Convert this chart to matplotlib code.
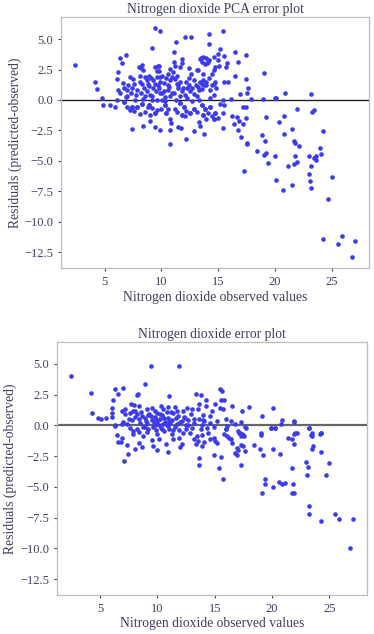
import numpy as np
import matplotlib
matplotlib.use("Agg")
import matplotlib.pyplot as plt
from matplotlib.ticker import MultipleLocator

# PCA model: observed NO2 vs residual (predicted - observed)
pca_obs = [
    2.4, 9.4, 9.84, 9.2, 12.1, 12.65, 14.15, 11.3, 11.1, 14.2, 6.4, 6.93, 6.5, 6.2, 6.1,
    4.15, 4.3, 4.8, 8.3, 8.2, 9.7, 9.8, 11.8, 11.8, 12.4, 13.2, 13.45, 13.9, 14.0, 13.7,
    14.1, 14.6, 14.6, 10.8, 11.6, 11.0,
    6.6, 6.2, 6.4, 6.7, 6.95, 6.85, 6.1, 6.7, 7.4, 7.85, 7.7, 7.55, 7.4, 7.85, 7.8, 8.15,
    8.1, 8.0, 8.4, 8.3,
    8.6, 8.7, 8.9, 8.95, 8.7, 9.0, 9.15, 8.9, 9.45, 9.4, 9.6, 9.75, 9.25, 9.45, 9.6, 9.9,
    10.05, 9.75, 9.9, 10.2, 10.35, 10.05, 10.35, 10.6, 10.4, 10.55, 10.8, 10.95, 10.6,
    10.95, 11.1, 11.2,
    11.35, 11.5, 11.65, 11.8, 11.3, 11.65, 11.95, 11.8, 12.25, 12.4, 12.55, 12.3, 12.7,
    12.85, 12.55, 12.6, 12.85, 13.05, 13.1,
    13.3, 13.4, 13.55, 13.7, 13.75, 13.95, 13.4, 13.55, 13.7, 13.85, 14.15, 13.35, 13.55,
    13.85, 13.7, 14.3, 14.6, 14.45, 14.75, 14.3, 14.75, 14.6, 15.2, 15.5, 15.45,
    15.45, 15.2, 15.0, 15.55, 16.5, 17.45, 16.75, 14.95, 15.1, 15.75, 15.7, 14.7, 16.5,
    15.55, 15.9, 14.6, 17.45, 19.05, 17.6, 17.55, 16.95, 20.9, 23.15, 17.9, 18.9, 20.0,
    20.1, 16.15, 15.45,
    15.0, 15.45, 16.2, 16.35, 16.65, 16.85, 16.75, 17.0, 17.2, 17.45, 17.5, 17.55, 17.3,
    17.2, 17.45, 18.45, 18.85, 19.15, 19.05, 19.25, 19.4, 19.2, 20.0, 20.35, 20.1, 20.7,
    20.75, 20.8, 21.1, 21.5, 21.5, 21.7, 21.75, 21.9, 22.15, 21.75, 21.65, 21.9, 23.25,
    23.4, 23.0, 23.6, 23.65, 23.45, 23.2, 22.95, 23.1, 23.2, 24.05, 24.0, 24.2, 25.0,
    24.7, 24.2, 25.55, 25.9, 27.05, 26.75,
    4.9, 5.45, 5.95, 7.0, 7.25, 7.6, 8.1, 7.4, 8.4, 8.6, 9.0, 9.0, 9.45, 9.9, 9.6, 10.0,
    10.8, 10.85, 10.8, 10.8, 11.2, 11.35, 11.5, 11.7, 12.05, 12.2, 12.15, 12.9, 13.1,
    13.35, 13.4, 13.75, 13.95, 14.1, 14.5, 8.8, 9.2,
    7.4, 7.85, 8.3, 8.9, 9.45, 10.35, 10.4, 11.65, 11.95, 11.8, 12.85, 12.55, 13.55,
    13.85, 13.7, 14.3, 14.75, 14.6, 6.7,
    7.2, 7.5, 7.1, 7.3, 7.0, 8.3, 8.5, 8.2, 8.6, 8.8, 8.4, 9.1, 9.3, 9.5, 9.2, 9.7, 9.6,
    9.9, 10.2, 10.4, 10.1, 10.7, 10.8, 10.3, 10.6, 11.2, 11.4, 11.1, 11.9, 11.6, 11.5,
    12.2, 12.4, 12.7, 12.1, 12.9, 13.2, 13.6, 13.9, 13.1, 14.2, 14.5, 14.8, 14.3,
]
pca_res = [
    2.9, 5.9, 5.7, 4.3, 5.2, 5.2, 5.4, 4.77, 3.93, 4.6, 3.44, 3.7, 3.0, 2.28, 1.76,
    1.46, 0.87, 0.14, 2.9, 2.6, 2.8, 2.4, 3.33, 3.0, 2.6, 2.44, 3.44, 3.44, 3.0, 2.17,
    3.1, 3.5, 2.44, 2.57, 2.7, 2.3,
    1.4, 0.8, 0.55, 1.0, 0.8, 0.25, 0.0, -0.15, -0.55, -0.55, 0.0, 1.35, 1.0, 0.8, 0.45, 1.5,
    2.0, 2.7, 2.5, -0.3,
    1.9, 1.6, 2.0, 1.15, 0.7, 0.4, 0.0, -0.4, -1.1, 2.7, 2.4, 2.8, 1.6, 1.35, 1.9, 1.5,
    2.0, 0.95, 0.55, 0.75, 0.25, 0.0, -0.4, -0.7, -1.1, 1.2, 1.6, 1.9, 0.8,
    0.55, 3.1, 2.75,
    1.35, 0.95, 1.5, 0.7, 0.0, -0.25, -0.55, -1.2, 0.95, 1.2, 0.7, 0.15, -0.05,
    -0.7, -1.1, 2.15, 1.6, 1.2, 2.45,
    0.8, 1.5, 1.35, 1.6, 1.2, 1.5, 3.35, 3.1, 3.5, 2.95, 3.25, 0.0, -0.4,
    -0.7, -1.2, 0.8, 0.4, 1.2, 1.5, -0.55, -1.1, -1.6, -0.3, -0.4, -1.1,
    5.7, 4.15, 3.8, 3.6, 3.9, 3.7, 3.15, 3.3, 2.8, 3.0, 2.7, 2.7, 2.0,
    1.5, 1.5, 1.35, 1.7, 2.2, 0.95, 0.55, 0.5, 0.6, 0.5, 0.1, 0.1, 0.15,
    0.2, 0.1, 0.0,
    -1.5, -2.3, -1.3, -1.95, -1.4, -1.7, -2.5, -3.0, -2.0, -1.5, -3.55, -3.65, -5.85,
    -0.55, -0.6, -4.15, -2.9, -3.35, -4.5, -4.35, -5.15, -1.4, -4.6, -1.8, -6.55, -7.4,
    -2.75, -1.3, -5.45, -2.4, -6.95, -3.4, -3.5, -0.75, -3.75, -4.6, -5.25, -5.1, -1.0,
    -0.8, -4.6, -4.6, -4.9, -4.75, -5.45, -6.05, -6.65, -7.25, -4.45, -3.9, -2.55, -6.35,
    -8.15, -11.4, -11.85, -11.15, -11.6, -12.85,
    -0.45, -0.45, -0.55, -0.55, -0.8, -0.9, -1.15, -2.35, -2.1, -1.0, -1.2, -1.7, -2.2, -2.5, -0.8, -0.7,
    -1.55, -1.9, -2.45, -3.6, -0.7, -0.95, -2.25, -2.3, -1.35, -0.9, -3.2, -2.55, -1.0,
    -1.8, -2.15, -2.8, -1.6, -1.1, -1.3, -0.6, -0.65,
    -0.55, -0.55, -0.3, -0.4, -1.1, -0.4, -1.1, -0.25, -0.55, -1.2, -0.7, -1.1, -0.4,
    -0.7, -1.2, -0.55, -1.1, -1.6, -0.15,
    1.9, 1.7, 1.2, 0.6, 0.3, 1.3, 1.0, 0.6, 0.3, 1.3, 0.1, 1.8, 1.0, 0.7, 0.3, 1.2, 0.0,
    1.9, 1.4, 1.8, 0.6, 1.1, 0.3, -0.1, 2.1, 1.7, 2.0, 0.6, 1.0, 0.3, 1.2,
    1.5, 1.8, 1.0, 0.4, 0.5, 1.1, 0.9, 1.2, 0.3, 1.8, 2.1, 1.0, 0.2,
]

# full model
base_obs = [
    2.45, 9.45, 11.85, 4.2, 4.3, 4.8, 5.1, 5.5, 6.3, 6.6, 7.0, 6.15, 6.0, 6.05, 6.0,
    8.3, 8.25, 8.9, 11.05, 7.7, 7.95, 8.4, 6.9, 7.2, 7.5, 7.9, 8.2, 8.35, 8.65, 9.0,
    9.5, 9.8, 9.4, 9.9, 10.2, 10.5, 10.9, 10.6, 11.05, 11.35, 11.5, 11.8, 12.1, 12.2,
    12.6, 12.95, 13.2, 13.5, 13.65, 13.95, 13.35, 13.8, 14.2, 14.2, 14.1, 6.3, 6.9, 8.9,
    9.75, 10.9, 12.65, 13.85,
    15.45, 15.65, 15.0, 15.8, 15.55, 15.5, 15.75, 16.55, 17.4, 17.95, 19.1, 20.1, 20.9,
    20.8, 21.9, 20.3, 19.95, 23.25, 24.25, 22.0, 23.5, 14.8, 14.6, 15.2, 16.0, 16.4,
    16.8, 17.3, 17.6, 16.1, 16.0, 17.0, 17.2, 19.0, 14.9,
    6.3, 6.9, 7.85, 7.9, 8.35, 8.75, 9.05, 9.95, 10.1, 10.4, 11.25, 11.4, 11.85, 12.2,
    12.45, 12.85, 13.45, 13.9, 14.45, 14.6, 14.9, 15.8, 15.95, 16.25, 17.1, 17.5, 17.7,
    19.0, 19.9, 20.3, 21.4, 21.9, 21.95, 23.25, 23.4, 24.2, 24.3,
    6.45, 6.6, 6.8, 7.1, 7.45, 7.3, 8.05, 8.35, 8.65, 9.5, 9.65, 9.95, 10.9, 10.75, 11.35,
    11.95, 12.1, 13.2, 13.4, 13.6, 13.6, 13.85, 14.1, 13.5,
    14.95, 15.35, 15.75, 15.55, 17.25, 16.9, 17.0, 17.6, 17.45, 18.4, 18.95, 19.25, 20.1,
    20.7, 21.7, 22.2, 21.7, 21.95, 19.4, 19.4, 19.1, 20.05, 20.65, 20.85, 21.15, 21.8,
    21.7, 21.95, 23.0, 23.1, 23.05, 23.45, 23.6, 23.45, 24.25, 25.0, 24.75, 23.25, 23.25,
    24.25, 25.5, 25.85, 27.05, 26.8,
    15.06, 15.2, 16.1, 16.4, 16.5, 16.8, 16.96, 17.25, 17.4, 17.55, 17.25,
    7.0, 7.3, 7.6, 7.8, 8.0, 8.2, 8.5, 8.7, 8.9, 9.1, 9.2, 9.3, 9.5, 9.6, 9.7, 9.8, 9.9,
    10.0, 10.1, 10.2, 10.3, 10.4, 10.5, 10.6, 10.7, 10.8, 10.9, 11.0, 11.1, 11.2, 11.3,
    11.5, 11.6, 11.7, 11.9, 12.0, 12.3, 12.5, 12.7, 13.0, 13.2, 13.6, 13.8, 14.0, 14.3,
    14.6, 7.2, 7.6, 8.0, 8.6, 9.1, 9.2, 10.0, 10.3, 10.8, 11.7, 12.4, 13.0,
]
base_res = [
    4.04, 4.8, 4.8, 2.65, 1.03, 0.57, 0.5, 0.6, 2.93, 2.58, 3.0, 2.1, 1.44, 1.03, 0.7,
    2.58, 2.45, 3.4, 2.38, 1.7, 1.65, 1.6, 1.16, 0.9, 0.5, 1.15, 0.9, 0.5, 0.75, 0.35,
    1.45, 1.15, 0.75, 0.5, 0.9, 1.3, 1.5, 0.6, 0.35, 1.0, 1.5, 0.75, 0.35, 1.15,
    1.45, 0.9, 0.5, 1.3, 1.7, 0.8, 2.58, 2.5, 2.1, 1.6, 0.35, 0.0, 0.1, -0.1,
    0.0, -0.05, 0.05, 0.0,
    2.93, 2.8, 1.75, 2.03, 2.03, 1.45, 1.3, 1.57, 1.16, 1.5, 0.76, 1.38, 0.43,
    0.08, 0.33, -0.2, -0.25, -0.2, -0.6, -0.6, -0.65, 1.16, 0.76, 0.35, 0.55, 0.35,
    0.08, 0.3, -0.15, -0.05, -0.3, -0.45, -0.6, -0.65, -0.15,
    -0.05, -1.0, -0.45, -0.7, -0.55, -0.85, -0.55, -0.7, -1.1, -0.3, -0.7, -0.35, -1.0, -0.6,
    -0.3, -0.6, -0.85, -0.8, -0.65, -1.1, -1.05, -0.7, -0.3, -1.0, -0.6, -0.8, -0.2,
    -0.8, -0.25, -0.2, -1.0, -0.7, 0.25, -0.2, -0.8, -0.7, -0.6,
    -0.8, -1.35, -1.35, -2.9, -2.3, -1.6, -1.95, -1.4, -1.8, -1.2, -1.7, -2.0, -2.2, -1.55, -1.15,
    -1.8, -1.55, -1.15, -1.55, -2.65, -3.25, -1.7, -1.35, -1.25,
    -2.4, -3.45, -4.4, -2.55, -3.2, -2.4, -2.0, -2.1, -1.65, -1.6, -1.95, -2.4, -1.95,
    -2.3, -3.45, -0.65, -1.15, -1.5, -4.35, -4.75, -5.5, -5.0, -4.6, -4.8, -4.7, -4.8,
    -5.5, -5.5, -3.0, -3.4, -4.05, -1.9, -1.65, -0.85, -2.2, -3.1, -4.05, -6.55, -7.25,
    -7.8, -7.25, -7.65, -7.65, -10.0,
    -1.28, -1.42, -0.87, -1.15, -1.42, -2.24, -1.83, -0.87, -0.74, -0.87, -1.56,
    0.3, 0.1, -0.2, 0.4, 0.7, -0.3, 0.2, -0.1, 0.6, 0.2, -0.3, 0.9, 0.4, -0.1, 0.2, 0.7, -0.4,
    0.3, 0.0, 0.5, -0.2, 0.8, 0.1, -0.5, 0.3, 0.0, 0.6, -0.3, 0.2, 1.1, 0.4,
    -0.1, 0.6, 0.1, -0.4, 0.3, 0.7, 0.0, 0.4, -0.2, 0.2, 0.5, -0.3, 0.4, -0.2,
    0.2, 1.3, 1.0, 1.2, 1.1, 1.3, 0.8, 1.0, 1.6, 1.1, 1.2, 0.6, 1.3,
]

titles = ["Nitrogen dioxide PCA error plot", "Nitrogen dioxide error plot"]

plt.rcParams['font.family'] = ['Liberation Serif', 'DejaVu Serif']
text_col = '#3d4060'
dot_col = '#3b3bea'

fig = plt.figure(figsize=(3.74, 6.34), dpi=100)
ax1 = fig.add_axes([0.163, 0.577, 0.824, 0.396])
ax2 = fig.add_axes([0.152, 0.0615, 0.829, 0.3995])

panels = [(ax1, pca_obs, pca_res, '#222222', 1.0), (ax2, base_obs, base_res, '#666666', 1.6)]
for i, (ax, xs, ys, zc, zw) in enumerate(panels):
    ax.scatter(xs, ys, s=11, color=dot_col, linewidths=0, zorder=3)
    ax.axhline(0, color=zc, lw=zw, zorder=2)
    ax.set_ylim(-13.8, 6.8)
    ax.xaxis.set_major_locator(MultipleLocator(5))
    ax.yaxis.set_major_locator(MultipleLocator(2.5))
    ax.set_title(titles[i], fontsize=9.8, color=text_col, pad=3)
    ax.set_xlabel("Nitrogen dioxide observed values", fontsize=9.8, color=text_col, labelpad=2)
    ax.set_ylabel("Residuals (predicted-observed)", fontsize=9.8, color=text_col, labelpad=2)
    ax.tick_params(labelsize=9, colors=text_col, length=2.5, width=0.8, pad=3)
    for sp in ax.spines.values():
        sp.set_color('#bdbdbd')
        sp.set_linewidth(0.9)

fig.savefig("out.png", dpi=100)
